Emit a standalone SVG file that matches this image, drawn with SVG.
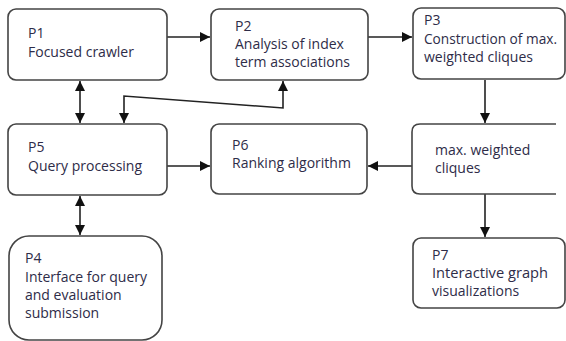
<svg xmlns="http://www.w3.org/2000/svg" width="566" height="341" viewBox="0 0 566 341">
<defs>
<style>
.box{fill:#fff;stroke:#444;stroke-width:1.6}
.t{font-family:"Open Sans","Noto Sans",sans-serif;font-size:14px;fill:#2e2c48}
.c{fill:none;stroke:#222;stroke-width:1.6}
</style>
<marker id="ah" viewBox="0 0 10 10" refX="10" refY="5" markerWidth="10" markerHeight="10" markerUnits="userSpaceOnUse" orient="auto-start-reverse">
<path d="M0,0 L10,5 L0,10 z" fill="#111"/>
</marker>
</defs>
<rect width="566" height="341" fill="#fff"/>
<g id="connectors">
<line class="c" x1="167" y1="37" x2="210" y2="37" marker-end="url(#ah)"/>
<line class="c" x1="368" y1="37" x2="412" y2="37" marker-end="url(#ah)"/>
<line class="c" x1="80" y1="81" x2="80" y2="123" marker-start="url(#ah)" marker-end="url(#ah)"/>
<polyline class="c" points="124,123 124,96 283,108 283,81" marker-start="url(#ah)" marker-end="url(#ah)"/>
<line class="c" x1="167" y1="166" x2="210" y2="166" marker-end="url(#ah)"/>
<line class="c" x1="412" y1="166" x2="368" y2="166" marker-end="url(#ah)"/>
<line class="c" x1="485" y1="80" x2="485" y2="123" marker-end="url(#ah)"/>
<line class="c" x1="485" y1="194" x2="485" y2="237" marker-end="url(#ah)"/>
<line class="c" x1="80" y1="196" x2="80" y2="235" marker-start="url(#ah)" marker-end="url(#ah)"/>
</g>
<g id="P1">
<rect class="box" x="8" y="9" width="159" height="71" rx="8"/>
<text class="t" x="28" y="38">P1</text>
<text class="t" x="28" y="57">Focused crawler</text>
</g>
<g id="P2">
<rect class="box" x="211" y="9" width="157" height="71" rx="8"/>
<text class="t" x="235" y="31">P2</text>
<text class="t" x="235" y="49">Analysis of index</text>
<text class="t" x="235" y="67">term associations</text>
</g>
<g id="P3">
<rect class="box" x="413" y="8" width="152" height="71" rx="8"/>
<text class="t" x="424" y="25">P3</text>
<text class="t" x="424" y="44" textLength="133" lengthAdjust="spacingAndGlyphs">Construction of max.</text>
<text class="t" x="424" y="62">weighted cliques</text>
</g>
<g id="P5">
<rect class="box" x="8" y="124" width="159" height="71" rx="8"/>
<text class="t" x="28" y="152">P5</text>
<text class="t" x="28" y="171">Query processing</text>
</g>
<g id="P6">
<rect class="box" x="211" y="124" width="156" height="70" rx="8"/>
<text class="t" x="232" y="150">P6</text>
<text class="t" x="232" y="168">Ranking algorithm</text>
</g>
<g id="MWC">
<path class="box" d="M556,124 H420 Q412,124 412,132 V186 Q412,194 420,194 H556"/>
<text class="t" x="435" y="155">max. weighted</text>
<text class="t" x="435" y="173">cliques</text>
</g>
<g id="P7">
<rect class="box" x="413" y="238" width="152" height="70" rx="8"/>
<text class="t" x="432" y="260">P7</text>
<text class="t" x="432" y="278" textLength="116" lengthAdjust="spacingAndGlyphs">Interactive graph</text>
<text class="t" x="432" y="296">visualizations</text>
</g>
<g id="P4">
<rect class="box" x="9" y="236" width="153" height="104" rx="20"/>
<text class="t" x="25" y="263">P4</text>
<text class="t" x="25" y="282">Interface for query</text>
<text class="t" x="25" y="300">and evaluation</text>
<text class="t" x="25" y="318">submission</text>
</g>
</svg>
